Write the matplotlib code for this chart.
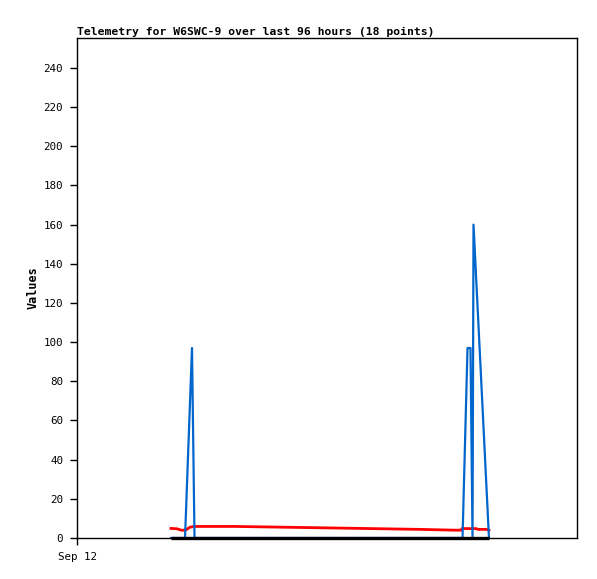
import matplotlib
matplotlib.use("Agg")
import matplotlib.pyplot as plt

# hours since Sep 12 00:00 and values
black_hours = [18.05, 79.10]
black_vals = [0, 0]

red_hours = [18.05, 19.2, 20.16, 20.93, 21.70, 22.46, 30.34, 42.43, 54.34,
             65.86, 72.58, 73.73, 73.92, 76.61, 77.0, 78.72, 79.10]
red_vals = [4.9, 4.7, 3.9, 4.2, 5.5, 5.9, 5.9, 5.4, 4.9,
            4.4, 4.0, 4.0, 4.8, 4.8, 4.4, 4.4, 3.9]

blue_hours = [18.05, 20.74, 22.08, 22.56, 74.02, 74.98, 75.55, 75.94, 76.13, 79.10]
blue_vals = [0, 0, 97, 0, 0, 97, 97, 0, 160, 0]

y_ticks = list(range(0, 241, 20))
x_ticks = [0]
x_labels = ["Sep 12"]

fig = plt.figure(figsize=(5.97, 5.79), dpi=100)
ax = fig.add_axes([77 / 597, 41 / 579, 500 / 597, 500 / 579])

ax.plot(black_hours, black_vals, color="black", lw=2.4,
        solid_capstyle="butt", clip_on=False, zorder=3)
ax.plot(red_hours, red_vals, color="#ff0000", lw=2)
ax.plot(blue_hours, blue_vals, color="#0066cc", lw=1.6)

ax.set_xlim(0, 96)
ax.set_ylim(0, 255.3)
ax.set_yticks(y_ticks)
ax.set_xticks(x_ticks)
ax.set_xticklabels(x_labels)
ax.tick_params(direction="out", length=5, width=1, pad=5,
               labelsize=7.8, labelfontfamily="DejaVu Sans Mono")
for s in ax.spines.values():
    s.set_linewidth(1)

ax.set_ylabel("Values", fontsize=8.5, fontweight="bold",
              family="DejaVu Sans Mono", labelpad=3)
ax.set_title("Telemetry for W6SWC-9 over last 96 hours (18 points)",
             loc="left", fontsize=8.2, fontweight="bold",
             family="DejaVu Sans Mono", pad=2)

fig.savefig("out.png", dpi=100)
